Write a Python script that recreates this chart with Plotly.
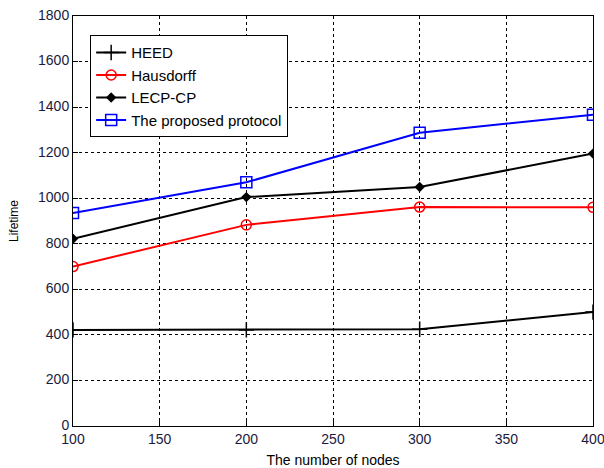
import plotly.graph_objects as go

nodes = [100, 200, 300, 400]
heed = [422, 422, 425, 500]
hausdorff = [700, 883, 961, 960]
lecp_cp = [822, 1005, 1049, 1196]
proposed = [935, 1070, 1287, 1367]

x_ticks = [100, 150, 200, 250, 300, 350, 400]
y_ticks = [0, 200, 400, 600, 800, 1000, 1200, 1400, 1600, 1800]

FONT = "Liberation Sans, Arial"

fig = go.Figure()
fig.add_trace(go.Scatter(x=nodes, y=heed, name="HEED", mode="lines+markers",
                         line=dict(color="black", width=2),
                         marker=dict(symbol="cross-thin", size=11, line=dict(color="black", width=1.5))))
fig.add_trace(go.Scatter(x=nodes, y=hausdorff, name="Hausdorff", mode="lines+markers",
                         line=dict(color="red", width=2),
                         marker=dict(symbol="circle-open", size=10, color="red", line=dict(color="red", width=1.5))))
fig.add_trace(go.Scatter(x=nodes, y=lecp_cp, name="LECP-CP", mode="lines+markers",
                         line=dict(color="black", width=2),
                         marker=dict(symbol="diamond", size=8, color="black")))
fig.add_trace(go.Scatter(x=nodes, y=proposed, name="The proposed protocol", mode="lines+markers",
                         line=dict(color="blue", width=2),
                         marker=dict(symbol="square-open", size=11, color="blue", line=dict(color="blue", width=1.5))))

axis_common = dict(showline=True, linecolor="black", linewidth=1, mirror=True,
                   ticks="inside", ticklen=5, tickcolor="black",
                   showgrid=True, gridcolor="black", gridwidth=1, griddash="3px,3px",
                   zeroline=False, automargin=False, ticklabeloverflow="allow",
                   tickfont=dict(family=FONT, size=14, color="#1a1a40"))

fig.update_xaxes(range=[100, 400], tickvals=x_ticks,
                 title=dict(text="The number of nodes", font=dict(family=FONT, size=14, color="black"), standoff=10),
                 **axis_common)
fig.update_yaxes(range=[0, 1800], tickvals=y_ticks, ticklabelshift=-1,
                 title=dict(text="Lifetime", font=dict(family=FONT, size=12, color="black"), standoff=16),
                 **axis_common)

fig.update_layout(width=604, height=468, margin=dict(l=73, r=11, t=16, b=42),
                  paper_bgcolor="white", plot_bgcolor="white",
                  legend=dict(x=0.033, y=0.953, xanchor="left", yanchor="top",
                              bordercolor="black", borderwidth=1, bgcolor="white",
                              font=dict(family=FONT, size=15, color="black"),
                              tracegroupgap=0),
                  showlegend=True)

fig.write_html("out.html")
